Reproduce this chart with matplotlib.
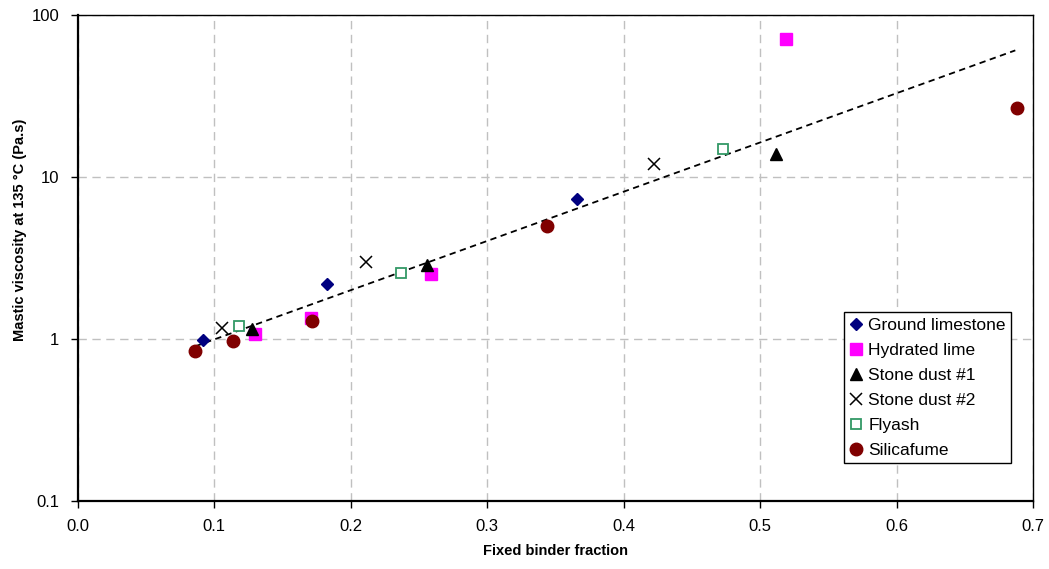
import matplotlib
matplotlib.use("Agg")
import matplotlib.pyplot as plt
from matplotlib.ticker import FixedLocator, FixedFormatter, NullLocator

plt.rcParams['font.family'] = ['Liberation Sans', 'DejaVu Sans']

# data
limestone_x = [0.092, 0.183, 0.366]
limestone_y = [0.99, 2.2, 7.3]
lime_x = [0.130, 0.171, 0.259, 0.519]
lime_y = [1.07, 1.35, 2.52, 71.0]
dust1_x = [0.128, 0.256, 0.512]
dust1_y = [1.15, 2.86, 13.9]
dust2_x = [0.106, 0.211, 0.422]
dust2_y = [1.17, 3.0, 12.0]
flyash_x = [0.118, 0.237, 0.473]
flyash_y = [1.2, 2.55, 14.9]
silica_x = [0.086, 0.114, 0.172, 0.344, 0.688]
silica_y = [0.84, 0.97, 1.29, 4.98, 26.7]

# exponential trendline (straight on log axis), end points
trend_x = [0.086, 0.687]
trend_y = [0.90, 60.5]

x_ticks = [0.0, 0.1, 0.2, 0.3, 0.4, 0.5, 0.6, 0.7]
y_ticks = [0.1, 1, 10, 100]
y_labels = ['0.1', '1', '10', '100']

fig = plt.figure(figsize=(10.49, 5.69), dpi=100)
ax = fig.add_axes([0.0739, 0.1195, 0.9109, 0.8541])

ax.set_yscale('log')
ax.set_xlim(0, 0.7)
ax.set_ylim(0.1, 100)

ax.plot(trend_x, trend_y, color='black', linestyle=(0, (3.5, 2.5)), linewidth=1.3, zorder=2)

ax.plot(limestone_x, limestone_y, linestyle='none', marker='D', markersize=6.3,
        color='#000080', label='Ground limestone', zorder=3)
ax.plot(lime_x, lime_y, linestyle='none', marker='s', markersize=8,
        color='#FF00FF', label='Hydrated lime', zorder=3)
ax.plot(dust1_x, dust1_y, linestyle='none', marker='^', markersize=8.5,
        color='black', label='Stone dust #1', zorder=3)
ax.plot(dust2_x, dust2_y, linestyle='none', marker='x', markersize=8.5,
        markeredgewidth=1.1, color='black', label='Stone dust #2', zorder=3)
ax.plot(flyash_x, flyash_y, linestyle='none', marker='s', markersize=7.5,
        markerfacecolor='white', markeredgecolor='#339966', markeredgewidth=1.3,
        label='Flyash', zorder=3)
ax.plot(silica_x, silica_y, linestyle='none', marker='o', markersize=9,
        color='#800000', label='Silicafume', zorder=3)

ax.xaxis.set_major_locator(FixedLocator(x_ticks))
ax.set_xticklabels([f'{v:.1f}' for v in x_ticks])
ax.yaxis.set_major_locator(FixedLocator(y_ticks))
ax.yaxis.set_major_formatter(FixedFormatter(y_labels))
ax.yaxis.set_minor_locator(NullLocator())

ax.grid(True, color='#c0c0c0', linestyle=(0, (6, 4)), linewidth=1.0)
ax.set_axisbelow(True)

ax.tick_params(axis='both', direction='out', length=5, width=1, labelsize=12, pad=8)
for side in ['left', 'bottom']:
    ax.spines[side].set_linewidth(1.6)
for side in ['top', 'right']:
    ax.spines[side].set_linewidth(1.0)

ax.set_xlabel('Fixed binder fraction', fontsize=10.5, fontweight='bold')
ax.xaxis.set_label_coords(0.5, -0.088)
ax.set_ylabel('Mastic viscosity at 135 \u00b0C (Pa.s)', fontsize=10.5, fontweight='bold')
ax.yaxis.set_label_coords(-0.053, 0.558)

leg = ax.legend(loc='upper right', bbox_to_anchor=(0.977, 0.388), fontsize=12.5,
                frameon=True, fancybox=False, framealpha=1, edgecolor='black',
                handlelength=0.8, handletextpad=0.3, labelspacing=0.57,
                borderpad=0.3, borderaxespad=0, numpoints=1)
leg.get_frame().set_linewidth(1.0)

fig.savefig('out.png', dpi=100)
